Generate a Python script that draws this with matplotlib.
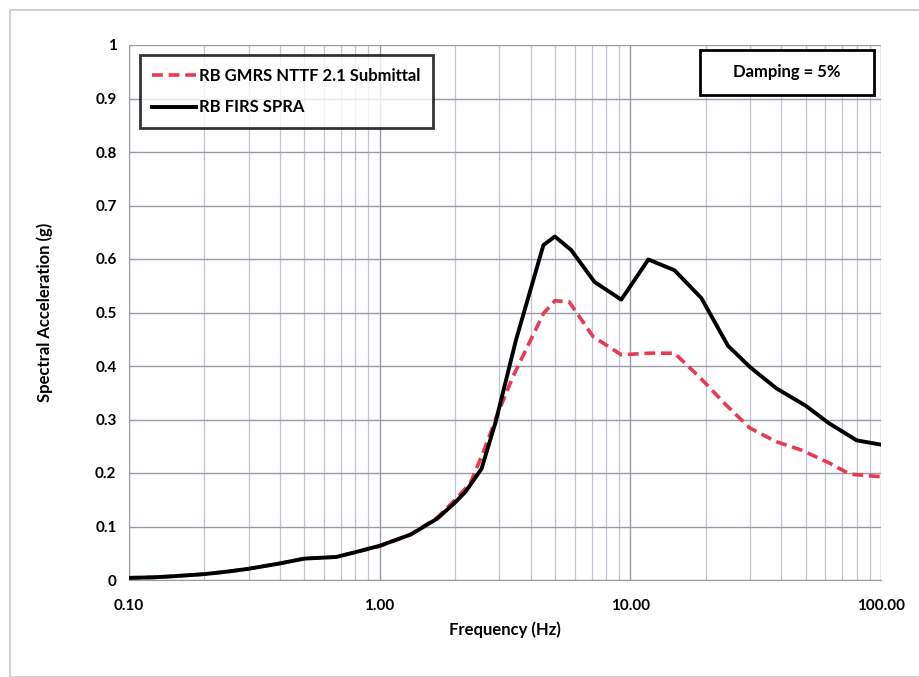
import matplotlib
matplotlib.use('Agg')
import matplotlib.pyplot as plt
from matplotlib.ticker import FixedLocator, FixedFormatter, LogLocator, NullFormatter
from matplotlib.patches import Rectangle

# RB FIRS SPRA
freq_firs = [0.1, 0.125, 0.15, 0.2, 0.25, 0.3, 0.4, 0.5, 0.67, 0.8, 1.0, 1.33, 1.7,
             2.0, 2.2, 2.55, 2.9, 3.5, 4.5, 5.0, 5.8, 7.2, 9.2, 11.8, 15.0, 19.2,
             24.5, 30.0, 38.3, 50.0, 62.0, 80.0, 100.0]
sa_firs = [0.004, 0.005, 0.007, 0.011, 0.016, 0.021, 0.031, 0.040, 0.043, 0.052,
           0.064, 0.085, 0.115, 0.145, 0.165, 0.208, 0.295, 0.449, 0.626, 0.642,
           0.617, 0.557, 0.524, 0.599, 0.579, 0.527, 0.438, 0.398, 0.358, 0.326,
           0.293, 0.261, 0.253]

# RB GMRS NTTF 2.1 Submittal
freq_gmrs = [0.1, 0.125, 0.15, 0.2, 0.25, 0.3, 0.4, 0.5, 0.67, 0.8, 1.0, 1.33, 1.7,
             2.0, 2.3, 2.58, 3.0, 3.4, 4.5, 5.0, 5.7, 7.1, 9.2, 12.0, 15.0, 19.0,
             24.0, 30.0, 38.0, 48.0, 62.0, 75.0, 100.0]
sa_gmrs = [0.004, 0.005, 0.007, 0.011, 0.016, 0.021, 0.031, 0.040, 0.043, 0.052,
           0.063, 0.085, 0.117, 0.15, 0.181, 0.237, 0.318, 0.38, 0.498, 0.522,
           0.52, 0.455, 0.421, 0.424, 0.424, 0.378, 0.328, 0.284, 0.259, 0.243,
           0.219, 0.198, 0.193]

y_ticks = [0, 0.1, 0.2, 0.3, 0.4, 0.5, 0.6, 0.7, 0.8, 0.9, 1]
y_labels = ['0', '0.1', '0.2', '0.3', '0.4', '0.5', '0.6', '0.7', '0.8', '0.9', '1']
x_ticks = [0.1, 1, 10, 100]
x_labels = ['0.10', '1.00', '10.00', '100.00']

plt.rcParams['font.family'] = ['Lato', 'DejaVu Sans']

fig = plt.figure(figsize=(9.19, 6.77), dpi=100)
fig.patches.append(Rectangle((10 / 919, 0), 1, 1 - 10 / 677, transform=fig.transFigure,
                             fill=False, edgecolor='#c8c8c8', linewidth=1.2))
ax = fig.add_axes([129 / 919, 97 / 677, 752 / 919, 535 / 677])

ax.set_xscale('log')
ax.set_xlim(0.1, 100)
ax.set_ylim(0, 1)

ax.plot(freq_gmrs, sa_gmrs, color='#e83a52', linestyle=(0, (3, 1.6)), linewidth=2.6,
        label='RB GMRS NTTF 2.1 Submittal', zorder=3)
ax.plot(freq_firs, sa_firs, color='black', linewidth=2.8, label='RB FIRS SPRA', zorder=4)

ax.xaxis.set_major_locator(FixedLocator(x_ticks))
ax.xaxis.set_major_formatter(FixedFormatter(x_labels))
ax.xaxis.set_minor_locator(LogLocator(base=10, subs=range(2, 10)))
ax.xaxis.set_minor_formatter(NullFormatter())
ax.yaxis.set_major_locator(FixedLocator(y_ticks))
ax.yaxis.set_major_formatter(FixedFormatter(y_labels))

ax.grid(which='major', axis='both', color='#9a9aa8', linewidth=1.0)
ax.grid(which='minor', axis='x', color='#c4c4d0', linewidth=0.9)
ax.set_axisbelow(True)
ax.tick_params(which='both', length=0, labelsize=11)
ax.tick_params(axis='x', pad=14)
ax.tick_params(axis='y', pad=9)
for lab in ax.get_xticklabels() + ax.get_yticklabels():
    lab.set_fontweight('bold')
for s in ax.spines.values():
    s.set_visible(False)
ax.spines['left'].set_visible(True)
ax.spines['left'].set_color('#9a9aa8')
ax.spines['bottom'].set_visible(True)
ax.spines['bottom'].set_color('#9a9aa8')

ax.set_xlabel('Frequency (Hz)', fontsize=12, fontweight='bold', labelpad=6)
ax.set_ylabel('Spectral Acceleration (g)', fontsize=12, fontweight='bold', labelpad=30)

leg = ax.legend(loc='upper left', bbox_to_anchor=(0.0146, 0.981), fontsize=12,
                frameon=True, fancybox=False, edgecolor='black', handlelength=2.6,
                handletextpad=0.2, labelspacing=0.95, borderpad=0.75, borderaxespad=0)
leg.get_frame().set_linewidth(2)
for t in leg.get_texts():
    t.set_fontweight('bold')
leg.set_zorder(5)

# damping note box
ax.add_patch(Rectangle((0.759, 0.9065), 0.232, 0.0845, transform=ax.transAxes,
                       facecolor='white', edgecolor='black', linewidth=2, zorder=6))
ax.text(0.875, 0.949, 'Damping = 5%', transform=ax.transAxes, ha='center', va='center',
        fontsize=12, fontweight='bold', zorder=7)

fig.savefig('out.png', dpi=100)
